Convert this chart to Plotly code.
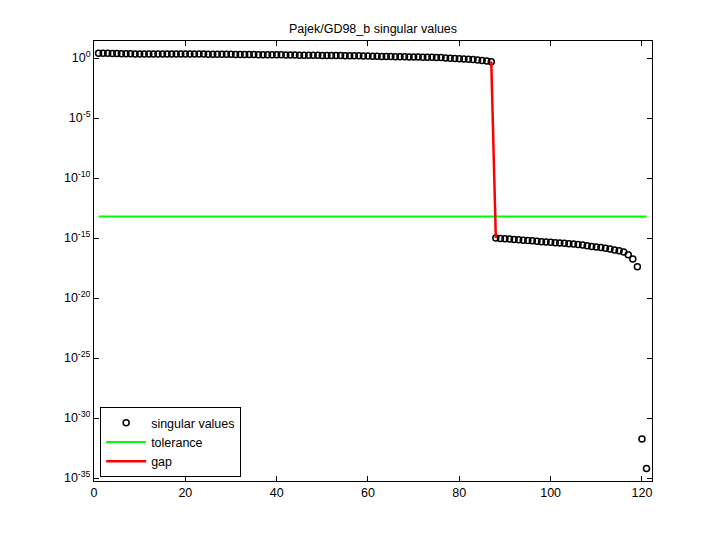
import plotly.graph_objects as go

# singular values (index 1..121)
sv_index = list(range(1, 122))
sv_values = [
    2.5, 2.45, 2.45, 2.4, 2.4,
    2.25, 2.24, 2.23, 2.22, 2.21, 2.2, 2.2, 2.19, 2.18, 2.18, 2.17, 2.16,
    2.15, 2.15, 2.14, 2.13, 2.13, 2.12, 2.12, 2.11, 2.1, 2.1, 2.08,
    2.05, 2.02, 2.0, 1.98, 1.96, 1.95, 1.93, 1.92, 1.9, 1.9, 1.88, 1.86, 1.85, 1.82,
    1.78, 1.76, 1.74, 1.72, 1.7, 1.69, 1.68, 1.66, 1.65, 1.63, 1.62, 1.6,
    1.58, 1.56, 1.55, 1.53, 1.5, 1.45,
    1.4, 1.38, 1.36, 1.34, 1.32, 1.3, 1.28, 1.26, 1.24, 1.22, 1.2, 1.18,
    1.16, 1.14, 1.12, 1.1,
    1.0, 0.95, 0.9, 0.86, 0.82, 0.78, 0.74, 0.7,
    0.63, 0.56, 0.5,
    1.0e-15, 9.3e-16, 8.7e-16, 8.1e-16, 7.6e-16, 7.1e-16, 6.6e-16, 6.2e-16,
    5.8e-16, 5.4e-16, 5.0e-16, 4.7e-16, 4.4e-16, 4.1e-16, 3.8e-16, 3.6e-16,
    3.4e-16, 3.2e-16,
    2.9e-16, 2.6e-16, 2.3e-16, 2.0e-16, 1.8e-16, 1.6e-16, 1.4e-16, 1.2e-16,
    1.0e-16, 8.5e-17, 7.0e-17,
    4.0e-17, 1.8e-17, 4.0e-18,
    1.8e-32, 6.3e-35,
]

tolerance_x = [1, 121]
tolerance_y = [6.3e-14, 6.3e-14]

gap_x = [87, 88]
gap_y = [sv_values[86], sv_values[87]]

x_ticks = [0, 20, 40, 60, 80, 100, 120]
y_tick_exps = [0, -5, -10, -15, -20, -25, -30, -35]

title_text = "Pajek/GD98_b singular values"

font_family = "Liberation Sans, Arial, Helvetica, sans-serif"
fs = 12.5

fig = go.Figure()
fig.add_trace(go.Scatter(
    x=sv_index, y=sv_values, mode="markers", name="singular values",
    marker=dict(symbol="circle-open", size=6, color="black",
                line=dict(width=1.5, color="black")),
))
fig.add_trace(go.Scatter(
    x=tolerance_x, y=tolerance_y, mode="lines", name="tolerance",
    line=dict(color="#00ff00", width=2),
))
fig.add_trace(go.Scatter(
    x=gap_x, y=gap_y, mode="lines", name="gap",
    line=dict(color="#ff0000", width=2.5),
))

fig.update_layout(
    width=720, height=540,
    margin=dict(l=94, r=68, t=41, b=59, autoexpand=False),
    paper_bgcolor="white", plot_bgcolor="white",
    font=dict(family=font_family, size=fs, color="black"),
    title=dict(text=title_text, x=(94 + 652) / 2 / 720, xanchor="center",
               y=1 - 29 / 540, yanchor="middle", automargin=False,
               font=dict(size=fs, color="black")),
    showlegend=True,
    legend=dict(x=0.011, y=0.009, xanchor="left", yanchor="bottom",
                bgcolor="white", bordercolor="black", borderwidth=1,
                font=dict(size=fs, color="black"), itemwidth=40, tracegroupgap=0),
)
fig.update_xaxes(
    range=[0, 122.2], tickvals=x_ticks, ticks="inside", ticklen=5,
    showline=True, linecolor="black", linewidth=1, mirror="ticks",
    showgrid=False, zeroline=False, tickcolor="black", automargin=False,
    tickfont=dict(color="black", size=fs),
)
fig.update_yaxes(
    type="log", range=[-35.25, 1.42],
    tickvals=[10.0 ** e for e in y_tick_exps],
    ticktext=["10<sup>%d</sup>" % e for e in y_tick_exps],
    ticks="inside", ticklen=5,
    showline=True, linecolor="black", linewidth=1, mirror="ticks",
    showgrid=False, zeroline=False, tickcolor="black", automargin=False,
    tickfont=dict(color="black", size=fs),
)

fig.write_html("out.html", config={"displayModeBar": False},
               post_script="document.body.style.margin='0px';")
